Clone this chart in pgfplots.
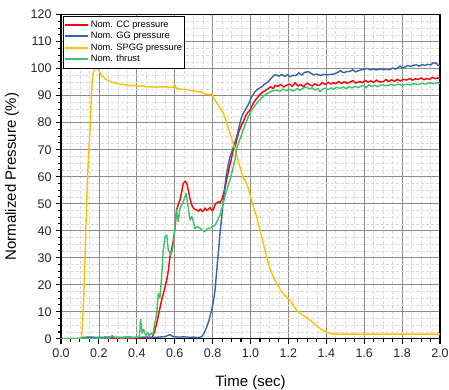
\documentclass[border=0pt]{standalone}
\usepackage{pgfplots}
\pgfplotsset{compat=1.18}
\usepackage{fontspec}
\setmainfont{Liberation Sans}
\definecolor{ccred}{RGB}{255,0,0}
\definecolor{ggblue}{RGB}{52,101,164}
\definecolor{spggyel}{RGB}{255,192,0}
\definecolor{thrgreen}{RGB}{60,195,105}
\begin{document}
\begin{tikzpicture}
\begin{axis}[
  at={(0,0)}, anchor=origin,
  scale only axis, width=379pt, height=324pt,
  xmin=0, xmax=2, ymin=0, ymax=120,
  xtick={0,0.2,...,2.0}, ytick={0,10,...,120},
  minor x tick num=3, minor y tick num=3,
  /pgf/number format/assume math mode=true,
  tick label style={font=\fontsize{12.5}{14}\selectfont, black!85},
  xticklabel style={/pgf/number format/fixed, /pgf/number format/fixed zerofill, /pgf/number format/precision=1, yshift=-2pt},
  yticklabel style={xshift=-1pt},
  tick align=outside, tick pos=left,
  major tick length=5pt, minor tick length=3pt,
  every tick/.style={black, line width=1.1pt},
  axis line style={black, line width=1.2pt},
  grid=both,
  major grid style={gray!90, line width=0.7pt},
  minor grid style={gray!30, line width=0.6pt, dash pattern=on 3pt off 2pt},
  xlabel={Time (sec)},
  ylabel={Normalized Pressure (\%)},
  every axis x label/.style={at={(rel axis cs:0.5,0)}, anchor=base, yshift=-48pt, font=\fontsize{15}{17}\selectfont},
  every axis y label/.style={at={(rel axis cs:0,0.5)}, rotate=90, anchor=base, yshift=45pt, font=\fontsize{15}{17}\selectfont},
  legend style={at={(rel axis cs:0,1)}, anchor=north west, xshift=2.5pt, yshift=-1pt,
    draw=black, line width=0.6pt, fill=white, inner xsep=0pt, inner ysep=3pt,
    font=\fontsize{9.3}{11}\selectfont, row sep=-0.6pt,
    /tikz/every even column/.append style={column sep=0pt}},
  legend cell align=left,
  every axis plot/.append style={line width=1.4pt, line join=round},
]
\addlegendimage{legend image code/.code={\draw[ccred, line width=2pt] (0pt,0pt) -- (23pt,0pt);}}
\addlegendentry{Nom. CC pressure}
\addlegendimage{legend image code/.code={\draw[ggblue, line width=2pt] (0pt,0pt) -- (23pt,0pt);}}
\addlegendentry{Nom. GG pressure}
\addlegendimage{legend image code/.code={\draw[spggyel, line width=2pt] (0pt,0pt) -- (23pt,0pt);}}
\addlegendentry{Nom. SPGG pressure}
\addlegendimage{legend image code/.code={\draw[thrgreen, line width=2pt] (0pt,0pt) -- (23pt,0pt);}}
\addlegendentry{Nom. thrust}
\addplot[ccred, forget plot] coordinates {
(0,0) (0.48,0.3) (0.487,1.4) (0.495,3) (0.505,5.7) (0.515,9) (0.531,14.3) (0.545,18) (0.558,21.7) (0.566,25)
(0.575,30.4) (0.585,33.5) (0.593,36.6) (0.60,40) (0.61,47.7) (0.618,49.5) (0.628,51.4) (0.637,54.5) (0.645,57.5)
(0.656,58.4) (0.664,57.5) (0.672,55) (0.68,52) (0.69,49.5) (0.70,48.2) (0.716,47.7) (0.725,47.2) (0.735,48.0)
(0.745,47.2) (0.751,47.3) (0.76,48.4) (0.768,47.5) (0.777,47.9) (0.786,48.6) (0.795,47.5) (0.804,47.7) (0.812,49.5)
(0.82,50.2) (0.83,50.7) (0.838,50.4) (0.848,51.4) (0.855,53) (0.865,55.6) (0.874,58.8) (0.885,62.5) (0.897,66)
(0.909,69.9) (0.918,71.1) (0.93,74.5) (0.94,77) (0.952,79) (0.962,80.4) (0.975,82.6) (0.988,84) (0.997,84.7)
(1.01,86.5) (1.02,87.8) (1.033,89) (1.05,90.5) (1.068,91.5) (1.08,92) (1.094,92.6) (1.105,93.3) (1.12,92.7)
(1.13,93.8) (1.145,93.5) (1.16,94.2) (1.175,93.2) (1.19,93.9) (1.208,94.3) (1.22,93.4) (1.235,94.8) (1.25,93.6)
(1.265,94.2) (1.28,93.3) (1.297,94.6) (1.31,94.2) (1.325,93.6) (1.34,94.4) (1.355,93.8) (1.367,94.0) (1.38,94.9)
(1.395,94.1) (1.41,95.0) (1.425,94.3) (1.437,94.8) (1.45,94.4) (1.465,95.3) (1.48,94.5) (1.495,95.2) (1.51,94.6)
(1.525,95.0) (1.54,95.6) (1.555,94.7) (1.578,95.2) (1.59,94.8) (1.605,95.7) (1.62,95.0) (1.635,95.5) (1.65,94.9)
(1.665,95.8) (1.68,95.1) (1.70,95.2) (1.715,96.0) (1.73,95.2) (1.745,95.9) (1.76,95.3) (1.775,96.1) (1.79,95.4)
(1.805,96.0) (1.824,95.8) (1.84,96.4) (1.855,95.7) (1.87,96.3) (1.885,96.0) (1.90,96.6) (1.915,95.9) (1.93,96.4)
(1.945,96.0) (1.96,96.8) (1.975,96.3) (1.99,96.6) (2.0,96.4)
};
\addplot[ggblue, forget plot] coordinates {
(0,0) (0.10,0) (0.11,0.5) (0.15,0.6) (0.2,0.5) (0.25,0.6) (0.3,0.5) (0.35,0.6) (0.4,0.5) (0.45,0.6) (0.5,0.5)
(0.55,0.8) (0.575,1.5) (0.59,0.8) (0.62,0.6) (0.65,0.7) (0.68,0.5) (0.70,0.6) (0.72,0.4) (0.742,0.7) (0.755,2)
(0.769,4.4) (0.782,7) (0.795,10.6) (0.805,14) (0.813,18) (0.819,23) (0.825,27.9) (0.832,33) (0.839,39) (0.848,45)
(0.857,51.4) (0.865,56.5) (0.874,61.3) (0.883,64.5) (0.892,67.4) (0.91,71) (0.927,74.8) (0.94,78.5) (0.953,82.2)
(0.97,84.5) (0.988,86.6) (1.005,89.5) (1.024,91.5) (1.04,92.5) (1.059,93.3) (1.075,94.3) (1.094,95.2) (1.11,96.5)
(1.125,97.6) (1.138,97.7) (1.15,97.2) (1.165,97.9) (1.18,97.1) (1.195,97.8) (1.208,97.0) (1.225,97.6) (1.24,97.4)
(1.255,98.5) (1.27,97.6) (1.285,98.6) (1.305,98.9) (1.32,98.3) (1.332,97.7) (1.35,98.0) (1.37,97.5) (1.385,97.9)
(1.402,97.7) (1.42,97.9) (1.44,98.0) (1.46,98.6) (1.475,99.3) (1.49,98.5) (1.508,98.9) (1.525,99.0) (1.54,99.6)
(1.555,98.8) (1.578,99.5) (1.595,99.7) (1.613,100.1) (1.63,99.6) (1.65,99.8) (1.665,99.5) (1.68,99.9) (1.70,99.6)
(1.719,99.8) (1.735,99.6) (1.75,100.3) (1.765,99.8) (1.78,100.5) (1.789,101.0) (1.80,100.3) (1.815,100.6)
(1.83,101.2) (1.845,100.8) (1.86,101.3) (1.877,101.4) (1.89,100.9) (1.905,101.5) (1.92,101.2) (1.935,101.6)
(1.95,101.4) (1.965,102.2) (1.98,102.0) (1.99,101.2) (2.0,101.0)
};
\addplot[spggyel, forget plot] coordinates {
(0,0) (0.10,0) (0.109,0.5) (0.12,15) (0.13,38) (0.139,58) (0.147,70) (0.153,77) (0.160,89) (0.165,95.8)
(0.172,99) (0.18,100) (0.19,100.2) (0.20,99.5) (0.21,98) (0.22,97) (0.24,96) (0.26,95.2) (0.28,94.8) (0.30,94.5)
(0.32,94.2) (0.347,94) (0.36,93.8) (0.38,93.9) (0.40,93.6) (0.42,93.5) (0.44,93.7) (0.45,93.2) (0.48,93.3)
(0.50,93.1) (0.52,93.4) (0.54,93.2) (0.56,93.3) (0.58,93.0) (0.595,93.2) (0.60,94.2) (0.605,93) (0.62,92.6)
(0.64,92.3) (0.66,92.4) (0.68,92.0) (0.70,91.8) (0.72,91.5) (0.74,91.3) (0.76,90.6) (0.786,90.3) (0.795,90.6)
(0.804,89.4) (0.83,86.5) (0.857,83.5) (0.875,79.8) (0.892,76) (0.905,73.2) (0.918,70.5) (0.94,64.5) (0.962,59.5)
(0.971,58.8) (0.988,55.7) (1.0,52.5) (1.015,48.9) (1.033,45) (1.05,40.3) (1.068,35.2) (1.085,30.4) (1.10,26.5)
(1.12,23) (1.14,20.2) (1.165,17.4) (1.185,15.8) (1.208,14.3) (1.225,12.5) (1.243,10.6) (1.27,9) (1.29,8)
(1.314,6.9) (1.34,5.3) (1.36,4.2) (1.384,3.0) (1.41,2.2) (1.43,1.8) (1.446,1.7) (1.5,1.7) (2.0,1.7)
};
\addplot[thrgreen, forget plot] coordinates {
(0,0) (0.20,0.2) (0.26,0.3) (0.27,1.2) (0.28,0.5) (0.32,0.3) (0.38,0.4) (0.41,0.5) (0.415,1.5) (0.42,7.2)
(0.428,2) (0.435,3.5) (0.443,2.0) (0.45,1.2) (0.458,2.2) (0.465,1.0) (0.475,2.0) (0.485,1.5) (0.496,6) (0.505,9)
(0.513,16.8) (0.522,15) (0.531,23) (0.54,32.9) (0.549,37.8) (0.558,38.4) (0.566,32.9) (0.579,31) (0.589,32.9)
(0.602,41.5) (0.61,47.7) (0.619,43.3) (0.628,48.3) (0.645,50.7) (0.66,53.8) (0.672,48.3) (0.681,44) (0.69,45.2)
(0.698,43.5) (0.707,40.9) (0.72,41.5) (0.734,40.9) (0.745,40.2) (0.76,39.6) (0.772,40.8) (0.786,40.9) (0.80,41.5)
(0.813,42.1) (0.826,43.8) (0.839,45.8) (0.852,49) (0.865,52.6) (0.878,55.8) (0.892,58.8) (0.905,62.5) (0.918,66.2)
(0.927,70.5) (0.95,75) (0.971,79.1) (0.99,82.5) (1.006,84.7) (1.025,86.5) (1.041,87.8) (1.06,89.2) (1.077,90.3)
(1.095,91) (1.115,91.8) (1.138,92.1) (1.155,91.6) (1.17,92.5) (1.19,91.8) (1.208,92.4) (1.225,91.7) (1.245,92.6)
(1.26,92.0) (1.28,92.9) (1.297,93.1) (1.31,92.5) (1.325,92.9) (1.34,92.1) (1.355,92.6) (1.367,91.5) (1.38,92.4)
(1.395,92.8) (1.41,92.2) (1.425,92.9) (1.44,92.4) (1.455,93.1) (1.472,92.7) (1.49,93.2) (1.505,92.6) (1.52,93.4)
(1.535,92.8) (1.55,93.5) (1.565,93.0) (1.578,93.3) (1.595,93.8) (1.61,92.9) (1.625,94.1) (1.64,93.4) (1.655,93.9)
(1.67,93.3) (1.685,93.9) (1.70,94.0) (1.72,93.6) (1.74,94.2) (1.76,93.8) (1.78,94.3) (1.80,93.9) (1.824,94.2)
(1.845,94.0) (1.865,94.5) (1.885,94.1) (1.905,94.6) (1.925,94.3) (1.945,94.8) (1.965,94.4) (1.985,94.8) (2.0,94.6)
};
\end{axis}
\pgfresetboundingbox
\path (-61pt,-51.3pt) rectangle (388pt,338.7pt);
\end{tikzpicture}
\end{document}
